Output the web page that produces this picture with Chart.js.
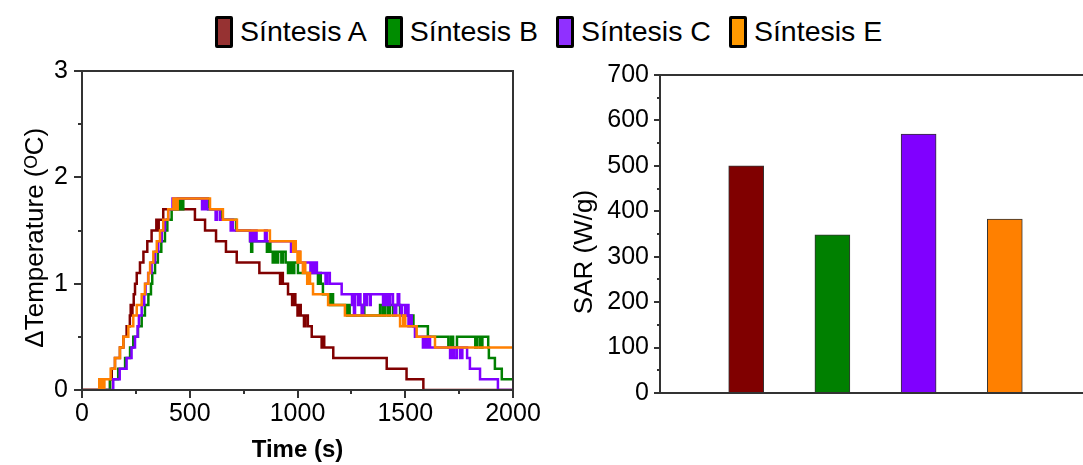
<!DOCTYPE html>
<html>
<head>
<meta charset="utf-8">
<script src="https://cdn.jsdelivr.net/npm/chart.js"></script>
<style>
  html, body { margin: 0; padding: 0; background: #fff; overflow: hidden; width: 1083px; height: 465px; }
  #tempChart { position: absolute; left: 0; top: 0; }
  #sarChart { position: absolute; left: 560px; top: 0; }
  #legend { position: absolute; left: 215px; top: 15px; display: flex; align-items: center;
            font-family: "Liberation Sans", Arial, sans-serif; font-size: 28.5px; color: #000; }
  .item { display: flex; align-items: center; margin-right: 18px; }
  .box { width: 12px; height: 26px; border: 3px solid #000; border-radius: 2px; margin-right: 7px; }
</style>
</head>
<body>
<div id="legend"></div>
<canvas id="tempChart" width="560" height="465"></canvas>
<canvas id="sarChart" width="540" height="465"></canvas>
<script>
// series names + colours
const seriesNames = ['Síntesis A', 'Síntesis B', 'Síntesis C', 'Síntesis E'];
const lineColors = ['#800000', '#008000', '#8000FF', '#FF8000'];
const legendColors = ['#963232', '#008c00', '#9030ff', '#ff9900'];

// heating/cooling curves: time (s) where the reading changes, and the new ΔT (ºC)
const timeA = [0, 130, 138, 153, 176, 192, 207, 222, 226, 230,
  234, 240, 246, 254, 269, 285, 303, 323, 345, 350,
  356, 377, 524, 571, 622, 668, 718, 823, 919, 925,
  932, 956, 975, 980, 990, 1000, 1006, 1015, 1030, 1036,
  1048, 1066, 1112, 1118, 1124, 1166, 1414, 1506, 1584, 2000];
const tempA = [0, 0.1, 0.2, 0.3, 0.4, 0.5, 0.6, 0.7, 0.8, 0.7,
  0.8, 0.9, 1.0, 1.1, 1.2, 1.3, 1.4, 1.5, 1.6, 1.5,
  1.6, 1.7, 1.6, 1.5, 1.4, 1.3, 1.2, 1.1, 1.0, 1.1,
  1.0, 0.9, 0.8, 0.9, 0.8, 0.7, 0.8, 0.7, 0.6, 0.7,
  0.6, 0.5, 0.4, 0.5, 0.4, 0.3, 0.2, 0.1, 0, 0];

const timeB = [0, 130, 168, 200, 223, 238, 260, 277, 292, 308,
  320, 326, 339, 352, 368, 385, 396, 416, 445, 452,
  458, 464, 470, 585, 650, 715, 780, 785, 790, 858,
  866, 874, 885, 892, 900, 910, 925, 932, 945, 956,
  965, 975, 985, 1002, 1095, 1102, 1108, 1118, 1150, 1156,
  1165, 1230, 1236, 1242, 1300, 1310, 1383, 1395, 1405, 1418,
  1428, 1443, 1452, 1476, 1538, 1605, 1700, 1712, 1722, 1740,
  1825, 1835, 1848, 1858, 1885, 1888, 1916, 1948, 2000];
const tempB = [0, 0.1, 0.2, 0.3, 0.4, 0.5, 0.6, 0.7, 0.8, 0.9,
  1.0, 1.1, 1.2, 1.3, 1.4, 1.5, 1.6, 1.7, 1.8, 1.7,
  1.8, 1.7, 1.8, 1.7, 1.6, 1.5, 1.4, 1.3, 1.4, 1.3,
  1.4, 1.3, 1.2, 1.3, 1.2, 1.3, 1.2, 1.3, 1.2, 1.1,
  1.2, 1.1, 1.2, 1.1, 1.0, 1.1, 1.0, 0.9, 0.8, 0.9,
  0.8, 0.7, 0.8, 0.7, 0.8, 0.7, 0.8, 0.7, 0.8, 0.7,
  0.8, 0.7, 0.8, 0.7, 0.6, 0.5, 0.4, 0.5, 0.4, 0.5,
  0.4, 0.5, 0.4, 0.5, 0.4, 0.3, 0.2, 0.1, 0.1];

const timeC = [0, 145, 175, 207, 230, 246, 258, 264, 277, 289,
  295, 307, 323, 339, 354, 370, 385, 400, 420, 557,
  563, 570, 574, 580, 620, 626, 640, 690, 695, 700,
  780, 788, 795, 802, 810, 849, 857, 970, 1010, 1060,
  1066, 1075, 1082, 1090, 1130, 1138, 1150, 1205, 1253, 1258,
  1262, 1267, 1281, 1286, 1292, 1298, 1305, 1310, 1316, 1322,
  1336, 1340, 1397, 1403, 1410, 1416, 1424, 1430, 1443, 1450,
  1458, 1465, 1472, 1480, 1485, 1500, 1508, 1515, 1522, 1530,
  1545, 1582, 1590, 1598, 1605, 1615, 1708, 1718, 1728, 1740,
  1755, 1765, 1787, 1800, 1847, 1930, 2000];
const tempC = [0, 0.1, 0.2, 0.3, 0.4, 0.5, 0.6, 0.7, 0.8, 0.9,
  1.0, 1.1, 1.2, 1.3, 1.4, 1.5, 1.6, 1.7, 1.8, 1.7,
  1.8, 1.7, 1.8, 1.7, 1.6, 1.7, 1.6, 1.5, 1.6, 1.5,
  1.4, 1.5, 1.4, 1.5, 1.4, 1.5, 1.4, 1.3, 1.2, 1.1,
  1.2, 1.1, 1.2, 1.1, 1.0, 1.1, 1.0, 0.9, 0.8, 0.9,
  0.7, 0.9, 0.8, 0.9, 0.8, 0.7, 0.8, 0.9, 0.8, 0.9,
  0.8, 0.9, 0.8, 0.9, 0.8, 0.9, 0.8, 0.9, 0.8, 0.7,
  0.8, 0.9, 0.8, 0.7, 0.8, 0.7, 0.8, 0.6, 0.7, 0.6,
  0.5, 0.4, 0.5, 0.4, 0.5, 0.4, 0.3, 0.4, 0.3, 0.4,
  0.3, 0.4, 0.3, 0.2, 0.1, 0, 0];

const timeE = [0, 80, 86, 92, 98, 104, 133, 153, 176, 192,
  215, 238, 254, 277, 292, 308, 316, 331, 347, 362,
  377, 400, 424, 430, 436, 440, 444, 594, 654, 719,
  872, 980, 986, 992, 1000, 1006, 1014, 1025, 1030, 1036,
  1045, 1050, 1058, 1072, 1142, 1220, 1476, 1490, 1500, 1553,
  1638, 2000];
const tempE = [0, 0.1, 0, 0.1, 0, 0.1, 0.2, 0.3, 0.4, 0.5,
  0.6, 0.7, 0.8, 0.9, 1.0, 1.1, 1.2, 1.3, 1.4, 1.5,
  1.6, 1.7, 1.8, 1.7, 1.8, 1.7, 1.8, 1.7, 1.6, 1.5,
  1.4, 1.3, 1.4, 1.3, 1.2, 1.3, 1.2, 1.1, 1.2, 1.1,
  1.0, 1.1, 1.0, 0.9, 0.8, 0.7, 0.6, 0.7, 0.6, 0.5,
  0.4, 0.4];

// SAR bar panel
const sarLabels = ['Síntesis A', 'Síntesis B', 'Síntesis C', 'Síntesis E'];
const sarValues = [500, 348, 570, 383];

const seriesTimes = [timeA, timeB, timeC, timeE];
const seriesTemps = [tempA, tempB, tempC, tempE];

Chart.defaults.font.family = '"Liberation Sans", Arial, sans-serif';
Chart.defaults.color = '#000';

// html legend shared by both panels
const legendEl = document.getElementById('legend');
seriesNames.forEach((name, i) => {
  const item = document.createElement('div');
  item.className = 'item';
  item.innerHTML = '<span class="box" style="background:' + legendColors[i] + '"></span><span>' + name + '</span>';
  legendEl.appendChild(item);
});

// box frame + outward major/minor ticks (minor = ticks with empty label)
const frameTicks = {
  id: 'frameTicks',
  afterDraw(chart, args, opts) {
    const ctx = chart.ctx;
    const a = chart.chartArea;
    ctx.save();
    ctx.strokeStyle = '#333';
    ctx.lineWidth = 2;
    ['x', 'y'].forEach(id => {
      const major = opts[id + 'Major'];
      if (!major) return;
      const minor = opts[id + 'Minor'];
      const s = chart.scales[id];
      s.ticks.forEach(t => {
        const len = t.label !== '' ? major : minor;
        const p = Math.round(s.getPixelForValue(t.value));
        ctx.beginPath();
        if (id === 'x') { ctx.moveTo(p, a.bottom); ctx.lineTo(p, a.bottom + len); }
        else { ctx.moveTo(a.left, p); ctx.lineTo(a.left - len, p); }
        ctx.stroke();
      });
    });
    ctx.strokeRect(a.left, a.top, a.right - a.left, a.bottom - a.top);
    ctx.restore();
  }
};

new Chart(document.getElementById('tempChart'), {
  type: 'line',
  data: {
    datasets: seriesNames.map((name, i) => ({
      label: name,
      data: seriesTimes[i].map((t, j) => ({ x: t, y: seriesTemps[i][j] })),
      borderColor: lineColors[i],
      backgroundColor: lineColors[i],
      borderWidth: 2.5,
      pointRadius: 0,
      stepped: 'before',
      fill: false,
      order: seriesNames.length - 1 - i
    }))
  },
  options: {
    responsive: false,
    animation: false,
    layout: { padding: { top: 71, right: 47, bottom: 0, left: 0 } },
    plugins: {
      legend: { display: false },
      tooltip: { enabled: false },
      frameTicks: { xMajor: 8, xMinor: 4, yMajor: 8, yMinor: 4 }
    },
    scales: {
      x: {
        type: 'linear', min: 0, max: 2000,
        grid: { display: false }, border: { display: false },
        ticks: { stepSize: 250, autoSkip: false, maxRotation: 0, padding: 1, font: { size: 25 },
                 callback: v => (v % 500 === 0 ? String(v) : '') },
        title: { display: true, text: 'Time (s)', font: { size: 24, weight: 'bold' }, padding: { top: 0, bottom: 0 } },
        afterFit: s => { s.height = 75; }
      },
      y: {
        min: 0, max: 3,
        grid: { display: false }, border: { display: false },
        ticks: { stepSize: 0.5, autoSkip: false, padding: 6, font: { size: 25 },
                 callback: v => (Number.isInteger(v) ? String(v) : '') },
        title: { display: true, text: 'ΔTemperature (ᴼC)  ', font: { size: 26 }, padding: { top: 20, bottom: 0 } },
        afterFit: s => { s.width = 82; }
      }
    }
  },
  plugins: [frameTicks]
});

new Chart(document.getElementById('sarChart'), {
  type: 'bar',
  data: {
    labels: [''].concat(sarLabels, ['']),
    datasets: [{
      label: 'SAR',
      data: [null].concat(sarValues, [null]),
      backgroundColor: ['transparent'].concat(lineColors, ['transparent']),
      borderColor: '#333',
      borderWidth: 1,
      barThickness: 35
    }]
  },
  options: {
    responsive: false,
    animation: false,
    layout: { padding: { top: 75, right: 9, bottom: 0, left: 0 } },
    plugins: {
      legend: { display: false },
      tooltip: { enabled: false },
      frameTicks: { yMajor: 6, yMinor: 3 }
    },
    scales: {
      x: {
        offset: false,
        grid: { display: false }, border: { display: false },
        ticks: { display: false },
        afterFit: s => { s.height = 72; }
      },
      y: {
        min: 0, max: 700,
        grid: { display: false }, border: { display: false },
        ticks: { stepSize: 50, autoSkip: false, padding: 3, font: { size: 25 },
                 callback: v => (v % 100 === 0 ? String(v) : '') },
        title: { display: true, text: 'SAR (W/g)     ', font: { size: 26 }, padding: { top: 9, bottom: 0 } },
        afterFit: s => { s.width = 100; }
      }
    }
  },
  plugins: [frameTicks]
});
</script>
</body>
</html>
